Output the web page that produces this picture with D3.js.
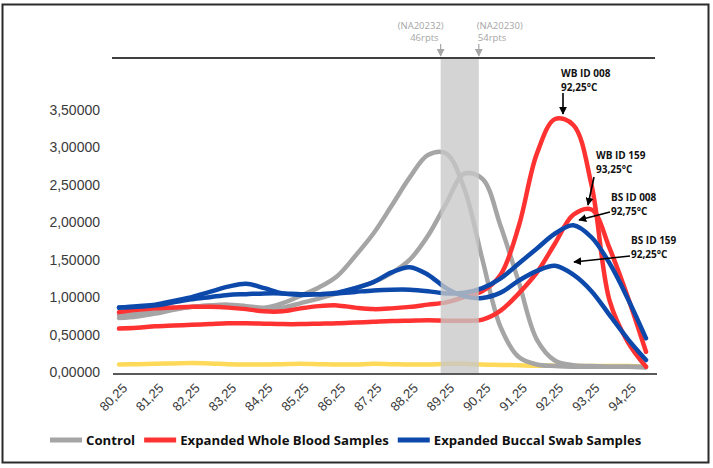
<!DOCTYPE html>
<html>
<head>
<meta charset="utf-8">
<script src="https://cdn.jsdelivr.net/npm/d3@7"></script>
<style>
  body{margin:0;background:#fff;}
  svg{display:block;}
</style>
</head>
<body>
<div class="canvas"></div>
<script>
// temperatures (°C), one point every 0.5
const temps=[80.25,80.75,81.25,81.75,82.25,82.75,83.25,83.75,84.25,84.75,85.25,85.75,86.25,86.75,87.25,87.75,88.25,88.75,89.25,89.75,90.25,90.75,91.25,91.75,92.25,92.75,93.25,93.75,94.25,94.75];

const control1=[0.72,0.74,0.78,0.83,0.87,0.89,0.90,0.88,0.86,0.92,1.02,1.13,1.28,1.55,1.85,2.22,2.60,2.90,2.92,2.45,1.50,0.60,0.20,0.10,0.08,0.07,0.07,0.07,0.07,0.06];
const control2=[0.76,0.78,0.80,0.84,0.87,0.89,0.88,0.86,0.85,0.86,0.92,0.98,1.05,1.12,1.20,1.32,1.50,1.82,2.25,2.65,2.58,1.95,1.20,0.43,0.15,0.09,0.08,0.07,0.07,0.07];
const wb008=[0.80,0.83,0.85,0.86,0.87,0.87,0.86,0.84,0.81,0.81,0.85,0.88,0.89,0.86,0.84,0.85,0.87,0.90,0.93,1.00,1.08,1.30,1.95,2.92,3.38,3.30,2.50,0.95,0.40,0.07];
const wb159=[0.58,0.59,0.61,0.62,0.63,0.64,0.65,0.65,0.645,0.64,0.64,0.645,0.65,0.66,0.67,0.68,0.685,0.69,0.685,0.685,0.70,0.82,1.05,1.33,1.72,2.10,2.17,1.65,1.00,0.27];
const bs008=[0.86,0.87,0.89,0.93,0.97,1.00,1.03,1.04,1.05,1.05,1.04,1.04,1.05,1.07,1.09,1.10,1.10,1.08,1.05,1.06,1.12,1.25,1.45,1.65,1.85,1.96,1.80,1.45,0.98,0.45];
const bs159=[0.86,0.88,0.90,0.95,1.00,1.07,1.14,1.18,1.12,1.05,1.03,1.04,1.06,1.12,1.20,1.33,1.40,1.30,1.12,1.01,0.99,1.06,1.22,1.35,1.42,1.30,1.08,0.76,0.44,0.16];
const ntc=[0.10,0.105,0.11,0.115,0.12,0.115,0.105,0.10,0.10,0.105,0.11,0.105,0.10,0.10,0.11,0.105,0.10,0.10,0.11,0.11,0.10,0.095,0.09,0.085,0.085,0.08,0.08,0.08,0.08,0.07];

const xTicks=[80.25,81.25,82.25,83.25,84.25,85.25,86.25,87.25,88.25,89.25,90.25,91.25,92.25,93.25,94.25];
const xTickLabels=['80,25','81,25','82,25','83,25','84,25','85,25','86,25','87,25','88,25','89,25','90,25','91,25','92,25','93,25','94,25'];
const yTicks=[0,0.5,1,1.5,2,2.5,3,3.5];
const yTickLabels=['0,00000','0,50000','1,00000','1,50000','2,00000','2,50000','3,00000','3,50000'];

// shaded genotype window and its labels
const band=[89.1,90.15];
const bandLabels=[['(NA20232)','46rpts'],['(NA20230)','54rpts']];

// peak call-outs
const callouts=[
  {name:'WB ID 008',temp:'92,25°C'},
  {name:'WB ID 159',temp:'93,25°C'},
  {name:'BS ID 008',temp:'92,75°C'},
  {name:'BS ID 159',temp:'92,25°C'}
];

const legendNames=['Control','Expanded Whole Blood Samples','Expanded Buccal Swab Samples'];

const colors={gray:'#a5a5a5',red:'#ff3232',blue:'#0c49ab',yellow:'#ffd95a'};

const W=713,H=468;
const svg=d3.select('.canvas').append('svg')
    .attr('width',W).attr('height',H);

// outer frame
svg.append('rect')
   .attr('x',2.5).attr('y',4.5).attr('width',706).attr('height',458)
   .attr('fill','#fff').attr('stroke','#2b2b2b').attr('stroke-width',2);

const x=d3.scaleLinear().domain([80.25,94.75]).range([119,646]);
const y=d3.scaleLinear().domain([0,3.5]).range([372,110]);

//y labels (no axis line)
const yAxis=d3.axisLeft(y).tickValues(yTicks).tickSize(0).tickPadding(0)
    .tickFormat((d,i)=>yTickLabels[i]);
const yG=svg.append('g').attr('transform','translate(100,0)').call(yAxis);
yG.select('.domain').remove();
yG.selectAll('text').attr('font-family','"Liberation Sans",Arial,sans-serif')
   .attr('font-size',14).attr('fill','#3a3a3a');

// lines
const line=d3.line().x((d,i)=>x(temps[i])).y(d=>y(d)).curve(d3.curveCatmullRom.alpha(0.5));
const series=[
  {v:ntc,c:colors.yellow},
  {v:control1,c:colors.gray},
  {v:control2,c:colors.gray},
  {v:wb159,c:colors.red},
  {v:wb008,c:colors.red},
  {v:bs008,c:colors.blue},
  {v:bs159,c:colors.blue}
];
svg.append('g').selectAll('path').data(series).enter().append('path')
   .attr('d',d=>line(d.v))
   .attr('fill','none').attr('stroke',d=>d.c)
   .attr('stroke-width',4.5).attr('stroke-linecap','round').attr('stroke-linejoin','round');

// shaded band on top of the lines
svg.append('rect')
   .attr('x',x(band[0])).attr('width',x(band[1])-x(band[0]))
   .attr('y',59).attr('height',y(0)-59+1)
   .attr('fill','#c8c8c8').attr('opacity',0.78);

// x axis line + labels
svg.append('line').attr('x1',x(80.25)-6).attr('x2',x(94.75)+11)
   .attr('y1',374).attr('y2',374).attr('stroke','#595959').attr('stroke-width',2);
svg.append('g').selectAll('text').data(xTicks).enter().append('text')
   .attr('transform',d=>`translate(${x(d)+9},389) rotate(-45)`)
   .attr('text-anchor','end')
   .attr('font-family','"Liberation Sans",Arial,sans-serif').attr('font-size',13)
   .attr('fill','#3a3a3a')
   .text((d,i)=>xTickLabels[i]);

// top rule
svg.append('line').attr('x1',112).attr('x2',655).attr('y1',58).attr('y2',58)
   .attr('stroke','#404040').attr('stroke-width',2);

// arrow heads
const defs=svg.append('defs');
const mk=(id,col,s)=>defs.append('marker').attr('id',id)
   .attr('viewBox','0 0 10 10').attr('refX',9).attr('refY',5)
   .attr('markerWidth',s).attr('markerHeight',s).attr('markerUnits','userSpaceOnUse')
   .attr('orient','auto').append('path').attr('d','M0,0L10,5L0,10z').attr('fill',col);
mk('ag','#a6a6a6',8);
mk('ab','#000',8);

// band labels + grey arrows
const bandG=svg.append('g').attr('font-family','"Open Sans",sans-serif')
   .attr('font-size',9.5).attr('fill','#a6a6a6');
bandG.append('text').attr('x',x(band[0])+3).attr('y',29).attr('text-anchor','end').text(bandLabels[0][0]);
bandG.append('text').attr('x',x(band[0])-2).attr('y',41).attr('text-anchor','end').text(bandLabels[0][1]);
bandG.append('text').attr('x',x(band[1])-2).attr('y',29).text(bandLabels[1][0]);
bandG.append('text').attr('x',x(band[1])-1).attr('y',41).text(bandLabels[1][1]);
band.forEach(b=>{
  svg.append('line').attr('x1',x(b)).attr('x2',x(b)).attr('y1',44).attr('y2',56)
     .attr('stroke','#a6a6a6').attr('stroke-width',1.2).attr('marker-end','url(#ag)');
});

// call-outs (text position, arrow start/end)
const co=[
  {tx:561,ty:77,from:[563,93],to:[563,114]},
  {tx:596,ty:159,from:[594,177],to:[588,205]},
  {tx:611,ty:201,from:[610,212],to:[579,220]},
  {tx:631,ty:244,from:[630,256],to:[574,262]}
];
const coG=svg.append('g').attr('font-family','"Open Sans",sans-serif')
   .attr('font-size',10).attr('font-weight',700).attr('fill','#111');
callouts.forEach((c,i)=>{
  const p=co[i];
  coG.append('text').attr('x',p.tx).attr('y',p.ty).text(c.name);
  coG.append('text').attr('x',p.tx).attr('y',p.ty+14).text(c.temp);
  svg.append('line').attr('x1',p.from[0]).attr('y1',p.from[1])
     .attr('x2',p.to[0]).attr('y2',p.to[1])
     .attr('stroke','#000').attr('stroke-width',1.6).attr('marker-end','url(#ab)');
});

// legend
const legColors=[colors.gray,colors.red,colors.blue];
const leg=svg.append('g').attr('transform','translate(50,440)');
let lx=0;
legendNames.forEach((n,i)=>{
  leg.append('line').attr('x1',lx).attr('x2',lx+32).attr('y1',0).attr('y2',0)
     .attr('stroke',legColors[i]).attr('stroke-width',5);
  const t=leg.append('text').attr('x',lx+36).attr('y',5)
     .attr('font-family','"Open Sans",sans-serif').attr('font-weight',700)
     .attr('font-size',13.2).attr('fill','#111').text(n);
  lx+=36+t.node().getComputedTextLength()+9;
});
</script>
</body>
</html>
